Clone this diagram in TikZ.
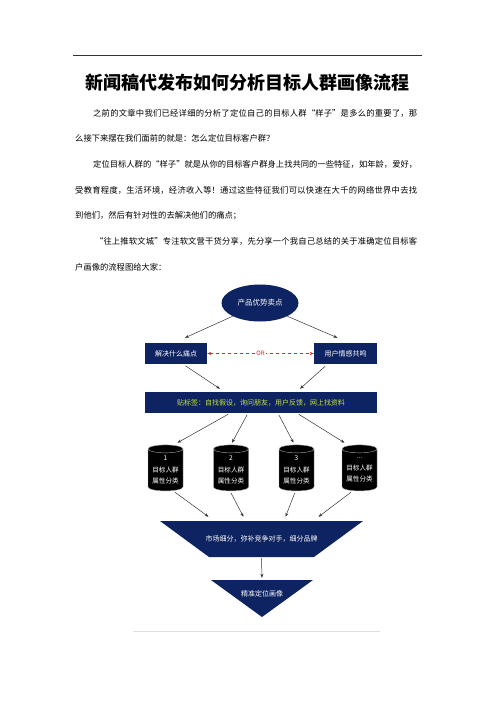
\documentclass[tikz,border=0pt]{standalone}
\usepackage{fontspec}
\setmainfont{Noto Sans CJK SC}
\XeTeXlinebreaklocale "zh"
\XeTeXlinebreakskip=0pt plus 1.5pt minus 0.5pt
\usepackage{tikz}
\usetikzlibrary{positioning,arrows.meta,shapes.geometric}
\usepackage{xcolor}
\definecolor{colnavy}{HTML}{0E2361}
\definecolor{coltag}{HTML}{C6E33A}
\definecolor{colred}{HTML}{D42A2A}

\begin{document}
\begin{tikzpicture}[x=1pt, y=-1pt,
    every node/.style={inner sep=0pt},
    dark/.style={fill=colnavy, text=white, font=\fontsize{7}{8}\selectfont},
    drum/.style={cylinder, shape border rotate=90, aspect=0.3, fill=black, draw=gray!70, line width=0.4pt,
      minimum width=35pt, minimum height=46pt, text=white, align=center, font=\fontsize{6.6}{11.5}\selectfont},
    flow/.style={-{Stealth[length=4pt,width=3pt]}, line width=0.5pt, black!80}]
    \useasboundingbox (0,0) rectangle (496,702);
    \draw[black!80, line width=0.6pt] (73,55) -- (422,55);
    \node (title) at (247.5,83) {\fontsize{18}{20}\selectfont\bfseries 新闻稿代发布如何分析目标人群画像流程};
    \node[anchor=base west, text width=342pt, align=justify, font=\fontsize{8.3}{25.7}\selectfont] (body) at (75,116) {%
      \hspace*{18pt}之前的文章中我们已经详细的分析了定位自己的目标人群“样子”是多么的重要了，那\linebreak
      么接下来摆在我们面前的就是：怎么定位目标客户群？\par
      \hspace*{18pt}定位目标人群的“样子”就是从你的目标客户群身上找共同的一些特征，如年龄，爱好，\linebreak
      受教育程度，生活环境，经济收入等！通过这些特征我们可以快速在大千的网络世界中去找\linebreak
      到他们，然后有针对性的去解决他们的痛点；\par
      \hspace*{20pt}“往上推软文城”专注软文营干货分享，先分享一个我自己总结的关于准确定位目标客\linebreak
      户画像的流程图给大家：};

    \node[dark, ellipse, minimum width=77pt, minimum height=37pt, font=\fontsize{7.5}{8}\selectfont] (top) at (260,303) {产品优势卖点};
    \node[dark, minimum width=62pt, minimum height=21pt] (pain) at (176,353.5) {解决什么痛点};
    \node[dark, minimum width=63pt, minimum height=21pt] (emo) at (345.5,353.5) {用户情感共鸣};
    \node[dark, minimum width=232pt, minimum height=21pt, text=coltag] (tags) at (261,402.5) {贴标签：自找假设，询问朋友，用户反馈，网上找资料};
    \node[drum] (c1) at (165.5,470) {1\\目标人群\\属性分类};
    \node[drum] (c2) at (231,470) {2\\目标人群\\属性分类};
    \node[drum] (c3) at (296.5,470) {3\\目标人群\\属性分类};
    \node[drum] (c4) at (359.5,470) {...\\目标人群\\属性分类};
    \node[text=white, font=\fontsize{7}{8}\selectfont, minimum width=203pt, minimum height=36pt,
      path picture={\fill[colnavy] (path picture bounding box.north west) -- (path picture bounding box.north east)
        -- ([xshift=-49pt]path picture bounding box.south east) -- ([xshift=49pt]path picture bounding box.south west) -- cycle;}]
      (seg) at (261.5,539) {市场细分，弥补竞争对手，细分品牌};
    \node[text=white, font=\fontsize{7}{8}\selectfont, minimum width=102pt, minimum height=37pt, text depth=10pt,
      path picture={\fill[colnavy] (path picture bounding box.north west) -- (path picture bounding box.north east)
        -- (path picture bounding box.south) -- cycle;}]
      (goal) at (262,598.5) {精准定位画像};

    \draw[flow] (top.south west) -- ([xshift=9pt,yshift=5pt]pain.north);
    \draw[flow] (top.south east) -- ([xshift=-8pt,yshift=5pt]emo.north);
    \draw[{Stealth[length=4pt,width=3pt]}-{Stealth[length=4pt,width=3pt]}, dashed, colred, line width=0.5pt]
      (pain.east) -- node[fill=white, inner sep=1.5pt, text=colred, font=\fontsize{6}{7}\selectfont] (or) {OR} (emo.west);
    \draw[flow, shorten <=3pt] ([xshift=7pt]pain.south) -- ([xshift=-41pt,yshift=3pt]tags.north);
    \draw[flow, shorten <=3pt] ([xshift=-18pt]emo.south) -- ([xshift=39pt,yshift=3pt]tags.north);
    \foreach \s/\e/\t in {-31/12/c1,-13/1/c2,17/-3/c3,36/-15/c4}
      \draw[flow, shorten <=2pt] ([xshift=\s pt]tags.south) -- ([xshift=\e pt,yshift=2pt]\t.north);
    \foreach \s/\e/\t in {8/-53/c1,-1/-18/c2,-1/24/c3,-7/57/c4}
      \draw[flow, shorten <=2pt] ([xshift=\s pt]\t.south) -- ([xshift=\e pt,yshift=4pt]seg.north);
    \draw[flow, shorten <=1pt, shorten >=2pt] (seg.south) -- (goal.north);
    \draw[gray!25, line width=0.6pt] (133,631) -- (380,631);
  \end{tikzpicture}
\end{document}
